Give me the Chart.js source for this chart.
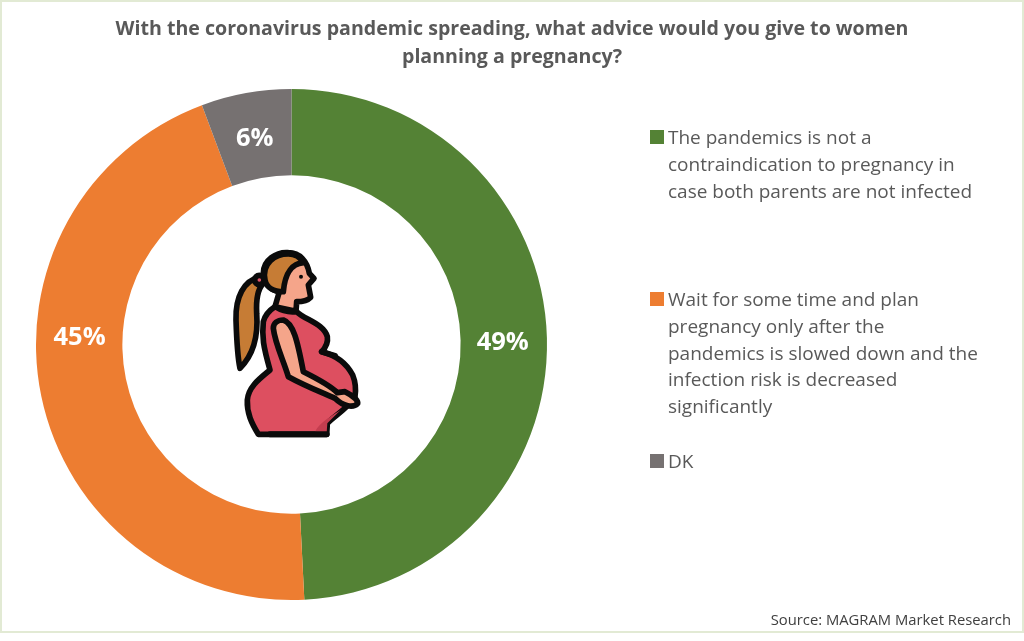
<!DOCTYPE html>
<html>
<head>
<meta charset="utf-8">
<script src="https://cdn.jsdelivr.net/npm/chart.js@4"></script>
<style>
html,body{margin:0;padding:0;background:#fff;}
body{width:1024px;height:641px;position:relative;overflow:hidden;font-family:"Open Sans",sans-serif;}
#rahmen{position:absolute;left:0;top:0;width:1020px;height:629px;border:2px solid #e2ead4;}
#chart{position:absolute;left:0;top:0;}
#titel{position:absolute;left:0;top:14px;width:1024px;text-align:center;font-size:19.6px;line-height:28.4px;font-weight:bold;color:#595959;white-space:pre-line;}
#figur{position:absolute;left:220px;top:240px;width:160px;height:210px;}
.leg{position:absolute;left:668px;width:350px;font-size:19px;line-height:26.8px;color:#595959;white-space:pre-line;}
.leg i{position:absolute;left:-18px;top:6px;width:14px;height:14px;}
#quelle{position:absolute;right:13px;top:609px;font-size:14.8px;color:#404040;}
</style>
</head>
<body>
<div id="rahmen"></div>
<canvas id="chart" width="1024" height="641"></canvas>
<div id="titel"></div>
<svg id="figur" viewBox="0 0 480 630" stroke="#0b0b0b" stroke-width="17" stroke-linejoin="round" stroke-linecap="round">
  <path d="M118,112 C72,122 46,170 48,240 C50,300 52,350 60,385 C95,350 116,300 110,220 C108,180 112,150 128,132 Z" fill="#c67c35"/>
  <circle cx="118" cy="120" r="14" fill="#e2566a"/>
  <path d="M165,200 L178,155 C150,150 130,130 130,100 C130,60 170,35 205,38 C240,38 262,65 268,100 L282,115 L265,135 L272,172 C260,185 240,185 230,185 L228,214 Z" fill="#f5a58a"/>
  <path d="M135,120 C125,70 165,42 205,42 C225,42 240,50 250,68 C220,70 195,95 190,155 C165,155 140,145 135,120 Z" fill="#c67c35"/>
  <circle cx="243" cy="110" r="6" fill="#0b0b0b" stroke="none"/>
  <path d="M165,200 C185,212 210,218 230,215 C255,240 310,250 322,290 C325,310 315,325 305,335 C345,345 380,370 398,405 C408,430 408,450 405,470 C385,505 340,530 322,550 L320,583 L115,583 C95,550 80,520 82,480 C85,440 120,415 150,390 C130,320 125,290 130,245 C135,225 150,210 165,200 Z" fill="#dd4f60"/>
  <path d="M285,575 C300,545 340,525 362,510 L322,550 L320,578 Z" fill="#c43d4f" stroke="none"/>
  <path d="M305,335 L345,347" fill="none"/>
  <path d="M190,240 C220,250 232,300 250,395 C290,415 330,435 352,458 L375,455 C395,465 415,480 413,490 C400,505 370,500 345,475 C300,455 250,435 205,410 C190,360 165,310 160,265 C160,250 172,240 190,240 Z" fill="#f5a58a"/>
  <path d="M150,583 L320,583" fill="none" stroke-width="18"/>
</svg>
<div id="legende"></div>
<div id="quelle"></div>
<script>
var TITEL = 'With the coronavirus pandemic spreading, what advice would you give to women\nplanning a pregnancy?';
var KATEGORIEN = [
  'The pandemics is not a\ncontraindication to pregnancy in\ncase both parents are not infected',
  'Wait for some time and plan\npregnancy only after the\npandemics is slowed down and the\ninfection risk is decreased\nsignificantly',
  'DK'
];
var WERTE = [49.2, 45.1, 5.7];
var ANZEIGE = ['49%', '45%', '6%'];
var FARBEN = ['#548235', '#ed7d31', '#767171'];
var LEGENDE_TOP = [124, 286, 448];
var QUELLE = 'Source: MAGRAM Market Research';

// im Original sind die Beschriftungen von Hand verschoben
var LABEL_VERSATZ = [[-1, 4], [-4, -50], [1, 3]];

var wertLabels = {
  id: 'wertLabels',
  afterDatasetsDraw: function(chart) {
    var ctx = chart.ctx;
    var meta = chart.getDatasetMeta(0);
    ctx.save();
    ctx.fillStyle = '#fff';
    ctx.font = 'bold 25.5px "Open Sans"';
    ctx.textAlign = 'center';
    ctx.textBaseline = 'middle';
    meta.data.forEach(function(arc, i) {
      var p = arc.tooltipPosition();
      ctx.fillText(ANZEIGE[i], p.x + LABEL_VERSATZ[i][0], p.y + LABEL_VERSATZ[i][1]);
    });
    ctx.restore();
  }
};

var html = '';
KATEGORIEN.forEach(function(k, i) {
  html += '<div class="leg" style="top:'+LEGENDE_TOP[i]+'px"><i style="background:'+FARBEN[i]+'"></i>'+k+'</div>';
});
document.getElementById('legende').innerHTML = html;
document.getElementById('titel').textContent = TITEL;
document.getElementById('quelle').textContent = QUELLE;

new Chart(document.getElementById('chart').getContext('2d'), {
  type: 'doughnut',
  data: {
    labels: KATEGORIEN,
    datasets: [{data: WERTE, backgroundColor: FARBEN, borderWidth: 0}]
  },
  plugins: [wertLabels],
  options: {
    responsive: false,
    animation: false,
    cutout: '66.2%',
    layout: {padding: {left: 36, right: 477, top: 89, bottom: 41}},
    plugins: {
      legend: {display: false},
      tooltip: {enabled: false}
    }
  }
});
</script>
</body>
</html>
